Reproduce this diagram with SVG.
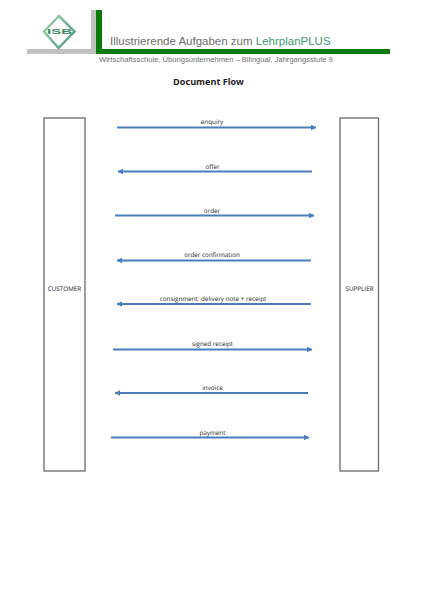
<svg xmlns="http://www.w3.org/2000/svg" width="422" height="600" viewBox="0 0 422 600">
<style>
.lane{fill:#fff;stroke:#6a6a6a;stroke-width:1.3}
.flow{stroke:#4a7ebb;stroke-width:1.8;fill:none}
.lbl{font-family:"Open Sans","Liberation Sans",sans-serif;font-size:6.3px;fill:#222;text-anchor:middle;text-rendering:geometricPrecision}
.hd{font-family:"Liberation Sans",Arial,sans-serif}
</style>
<defs>
<marker id="ah" viewBox="0 0 6 6" refX="5.500" refY="3" markerWidth="3.200" markerHeight="3.200" orient="auto-start-reverse"><path d="M0 0L6 3L0 6z" fill="#4a7ebb"/></marker>
<linearGradient id="dg" x1="0" y1="0" x2="1" y2="1"><stop offset="0" stop-color="#a5d2b8"/><stop offset="1" stop-color="#4c9670"/></linearGradient>
</defs>
<rect width="422" height="600" fill="#fff"/>
<g id="header">
<rect x="27" y="49" width="70" height="5" fill="#c2c2c2"/>
<rect x="91" y="10" width="5" height="44" fill="#c2c2c2"/>
<rect x="96" y="10" width="6" height="44" fill="#0a7a0a"/>
<rect x="96" y="49" width="294" height="5" fill="#0a7a0a"/>
<path d="M59 16L74.500 31.500L58.500 48L44 31.500z" fill="#fff" stroke="url(#dg)" stroke-width="2.500"/>
<text x="59.500" y="33.500" class="hd" font-size="8" font-weight="bold" fill="#3d8a62" text-anchor="middle" textLength="25" lengthAdjust="spacingAndGlyphs">ISB</text>
<text x="110" y="45" class="hd" font-size="11.500" fill="#6e6e6e">Illustrierende Aufgaben zum <tspan fill="#3d9a70">LehrplanPLUS</tspan></text>
<text x="99" y="62" class="hd" font-size="7.580" fill="#6e6e6e">Wirtschaftsschule, Übungsunternehmen – Bilingual, Jahrgangsstufe 9</text>
<text x="208.500" y="85" font-family="'Open Sans','Liberation Sans',sans-serif" font-size="9.100" font-weight="bold" fill="#222" text-anchor="middle">Document Flow</text>
</g>
<g id="customer">
<rect class="lane" x="44" y="118" width="41" height="353"/>
<text class="lbl" x="64.500" y="291">CUSTOMER</text>
</g>
<g id="supplier">
<rect class="lane" x="340" y="118" width="38.500" height="353"/>
<text class="lbl" x="359.500" y="291">SUPPLIER</text>
</g>
<g id="connectors">
<line class="flow" x1="117" y1="127.500" x2="316" y2="127.500" marker-end="url(#ah)"/>
<line class="flow" x1="312" y1="171.500" x2="118" y2="171.500" marker-end="url(#ah)"/>
<line class="flow" x1="115" y1="215.500" x2="314" y2="215.500" marker-end="url(#ah)"/>
<line class="flow" x1="311" y1="260.500" x2="117" y2="260.500" marker-end="url(#ah)"/>
<line class="flow" x1="311" y1="304" x2="117" y2="304" marker-end="url(#ah)"/>
<line class="flow" x1="113" y1="349.500" x2="312" y2="349.500" marker-end="url(#ah)"/>
<line class="flow" x1="308" y1="393" x2="115" y2="393" marker-end="url(#ah)"/>
<line class="flow" x1="111" y1="437.500" x2="309" y2="437.500" marker-end="url(#ah)"/>
</g>
<g id="labels">
<text class="lbl" x="212" y="124">enquiry</text>
<text class="lbl" x="212.500" y="168.500">offer</text>
<text class="lbl" x="212" y="213">order</text>
<text class="lbl" x="212" y="257">order confirmation</text>
<text class="lbl" x="213" y="301">consignment: delivery note + receipt</text>
<text class="lbl" x="212.500" y="345.500">signed receipt</text>
<text class="lbl" x="212.500" y="390">invoice</text>
<text class="lbl" x="212.500" y="434.500">payment</text>
</g>
</svg>
